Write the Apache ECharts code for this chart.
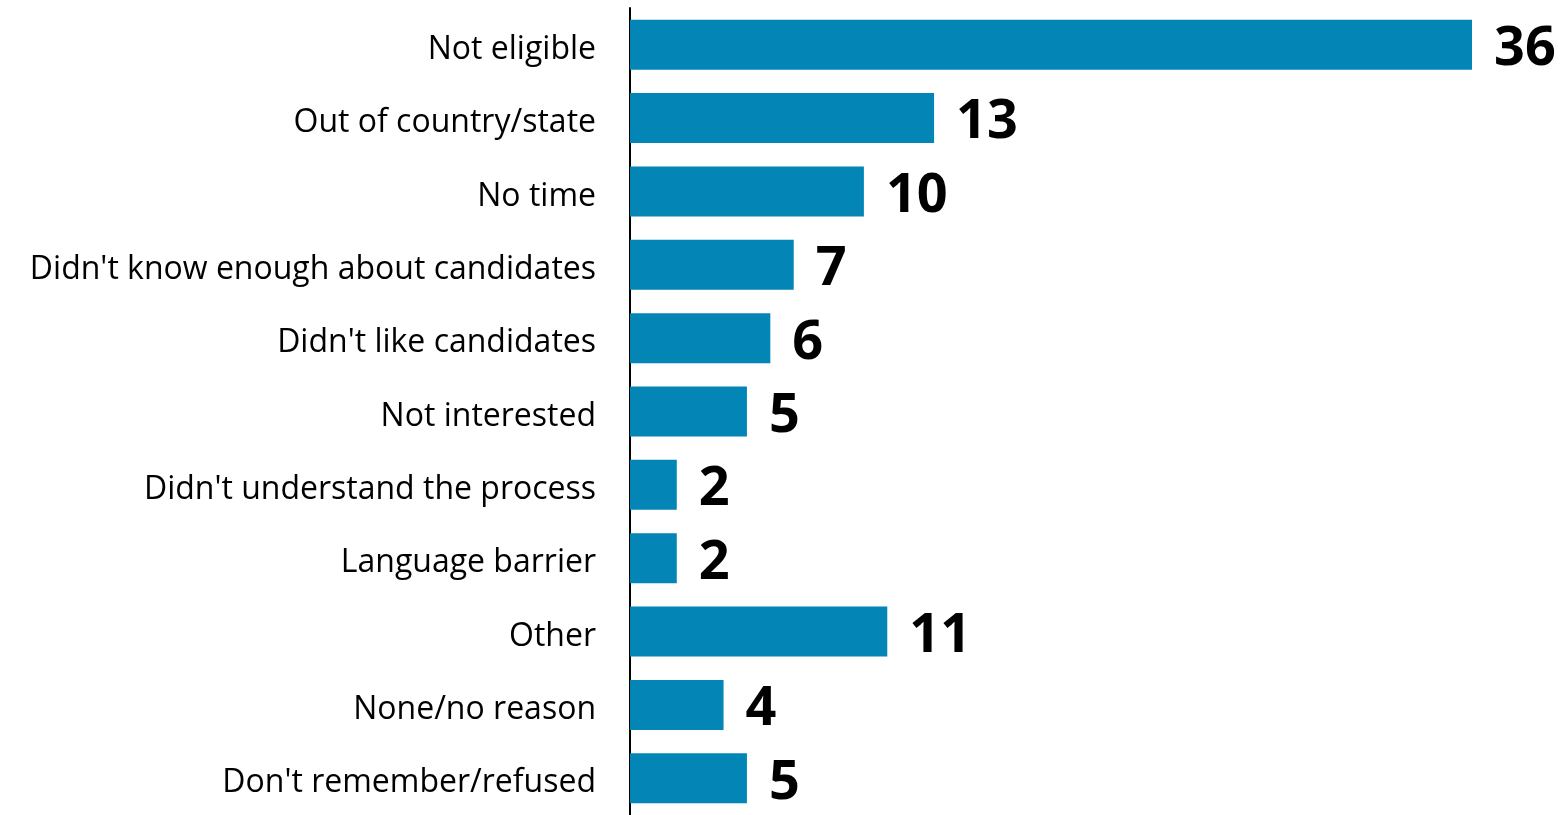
<!DOCTYPE html>
<html>
<head>
<meta charset="utf-8">
<script src="https://cdn.jsdelivr.net/npm/echarts@6/dist/echarts.min.js"></script>
<style>
  html, body { margin: 0; padding: 0; background: #fff; }
  #main { width: 1564px; height: 815px; }
</style>
</head>
<body>
<div id="main"></div>
<script>
  var categories = ['Not eligible', 'Out of country/state', 'No time', "Didn't know enough about candidates",
    "Didn't like candidates", 'Not interested', "Didn't understand the process", 'Language barrier',
    'Other', 'None/no reason', "Don't remember/refused"];
  var values = [36, 13, 10, 7, 6, 5, 2, 2, 11, 4, 5];

  var myChart = echarts.init(document.getElementById('main'));

  var option = {
    animation: false,
    grid: { left: 630, top: 8, width: 842, height: 813 },
    xAxis: {
      type: 'value',
      min: 0,
      max: 36,
      show: false
    },
    yAxis: {
      type: 'category',
      inverse: true,
      data: categories,
      axisLine: { lineStyle: { color: '#000', width: 2 } },
      axisTick: { show: false },
      axisLabel: {
        margin: 34,
        formatter: function (v) { return '{a|' + v + '}'; },
        rich: {
          a: {
            color: '#000',
            fontFamily: 'Open Sans',
            fontSize: 32,
            padding: [10, 0, 0, 0]
          }
        }
      }
    },
    series: [
      {
        type: 'bar',
        data: values,
        barWidth: 50,
        itemStyle: { color: '#0386B6' },
        label: {
          show: true,
          position: 'right',
          distance: 22,
          offset: [0, 5],
          color: '#000',
          fontFamily: 'Open Sans',
          fontWeight: 'bold',
          fontSize: 54
        }
      }
    ]
  };

  myChart.setOption(option);
</script>
</body>
</html>
